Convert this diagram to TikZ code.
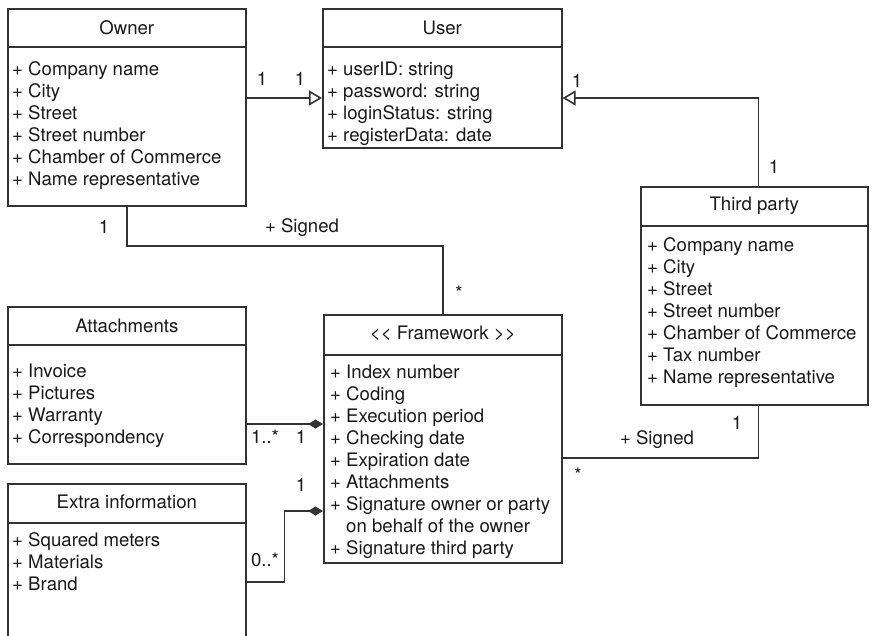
\documentclass[tikz,border=0pt]{standalone}
\usepackage{fontspec}
\setmainfont{TeX Gyre Heros}
\usepackage{tikz}
\usetikzlibrary{shapes,arrows.meta,positioning}

\tikzset{
  classbox/.style={draw=black!80, line width=1.6pt, rectangle, inner sep=0pt, anchor=north west},
  classname/.style={inner sep=0pt},
  attrs/.style={align=left, anchor=north west, inner sep=0pt},
  conn/.style={draw=black!80, line width=1.6pt},
  inherit/.style={conn, -{Triangle[open, length=13pt, width=15pt]}},
  compose/.style={conn, -{Diamond[length=15pt, width=9pt]}},
  mult/.style={inner sep=0pt}
}

\begin{document}
\begin{tikzpicture}[x=1pt, y=-1pt, font=\fontsize{18.6}{22}\selectfont, text=black!90]
\useasboundingbox (0,0) rectangle (874,636);

\node[classbox, minimum width=238pt, minimum height=197pt] (owner) at (7,8) {};
\draw[conn] ([yshift=-39pt]owner.north west) -- ([yshift=-39pt]owner.north east);
\node[classname] (ownername) at ([yshift=-20pt]owner.north) {Owner};
\node[attrs] (ownerattr) at ([xshift=5pt,yshift=-53.5pt]owner.north west)
  {+ Company name\\+ City\\+ Street\\+ Street number\\+ Chamber of Commerce\\+ Name representative};

\node[classbox, minimum width=239pt, minimum height=139pt] (user) at (322,8) {};
\draw[conn] ([yshift=-39pt]user.north west) -- ([yshift=-39pt]user.north east);
\node[classname] (username) at ([yshift=-20pt]user.north) {User};
\node[attrs] (userattr) at ([xshift=5pt,yshift=-53.5pt]user.north west)
  {+ userID: string\\+ password: string\\+ loginStatus: string\\+ registerData: date};

\node[classbox, minimum width=227pt, minimum height=218pt] (third) at (640,186) {};
\draw[conn] ([yshift=-40pt]third.north west) -- ([yshift=-40pt]third.north east);
\node[classname] (thirdname) at ([yshift=-20pt]third.north) {Third party};
\node[attrs] (thirdattr) at ([xshift=7pt,yshift=-51.5pt]third.north west)
  {+ Company name\\+ City\\+ Street\\+ Street number\\+ Chamber of Commerce\\+ Tax number\\+ Name representative};

\node[classbox, minimum width=238pt, minimum height=157pt] (attach) at (7,306) {};
\draw[conn] ([yshift=-39pt]attach.north west) -- ([yshift=-39pt]attach.north east);
\node[classname] (attachname) at ([yshift=-20pt]attach.north) {Attachments};
\node[attrs] (attachattr) at ([xshift=5pt,yshift=-57.5pt]attach.north west)
  {+ Invoice\\+ Pictures\\+ Warranty\\+ Correspondency};

\node[classbox, minimum width=238pt, minimum height=248pt] (frame) at (323,314) {};
\draw[conn] ([yshift=-41pt]frame.north west) -- ([yshift=-41pt]frame.north east);
\node[classname] (framename) at ([yshift=-19pt]frame.north) {{<}{<} Framework {>}{>}};
\node[attrs] (frameattr) at ([xshift=7pt,yshift=-50.5pt]frame.north west)
  {+ Index number\\+ Coding\\+ Execution period\\+ Checking date\\+ Expiration date\\+ Attachments\\+ Signature owner or party\\\phantom{+ }on behalf of the owner\\+ Signature third party};

\node[classbox, minimum width=238pt, minimum height=165pt] (extra) at (7,483) {};
\draw[conn] ([yshift=-40pt]extra.north west) -- ([yshift=-40pt]extra.north east);
\node[classname] (extraname) at ([yshift=-19pt]extra.north) {Extra information};
\node[attrs] (extraattr) at ([xshift=5pt,yshift=-49.5pt]extra.north west)
  {+ Squared meters\\+ Materials\\+ Brand};

\draw[inherit] (owner.east |- 0,98) -- (user.west |- 0,98);
\node[mult] (ownerusera) at (262,79) {1};
\node[mult] (owneruserb) at (300,79) {1};

\draw[inherit] ([xshift=4pt]third.north) |- (user.east |- 0,98);
\node[mult] (thirdusera) at (577,81) {1};
\node[mult] (thirduserb) at (774,167) {1};

\draw[conn] (owner.south) -- (owner.south |- 0,246) -| (frame.north);
\node[mult] (ownersigneda) at (104,227) {1};
\node[mult] (ownersignedb) at (302,228) {+ Signed};
\node[mult] (ownersignedc) at (459,293) {*};

\draw[compose] (attach.east |- 0,424) -- (frame.west |- 0,424);
\node[mult] (attachframea) at (265,437) {1..*};
\node[mult] (attachframeb) at (301,437) {1};

\draw[compose] (extra.east |- 0,582) -- ++(38,0) |- (frame.west |- 0,511);
\node[mult] (extraframea) at (301,485) {1};
\node[mult] (extraframeb) at (265,560) {0..*};

\draw[conn] ([xshift=4pt]third.south) |- (frame.east |- 0,458);
\node[mult] (thirdsigneda) at (737,423) {1};
\node[mult] (thirdsignedb) at (657,440) {+ Signed};
\node[mult] (thirdsignedc) at (578,475) {*};
\end{tikzpicture}
\end{document}
